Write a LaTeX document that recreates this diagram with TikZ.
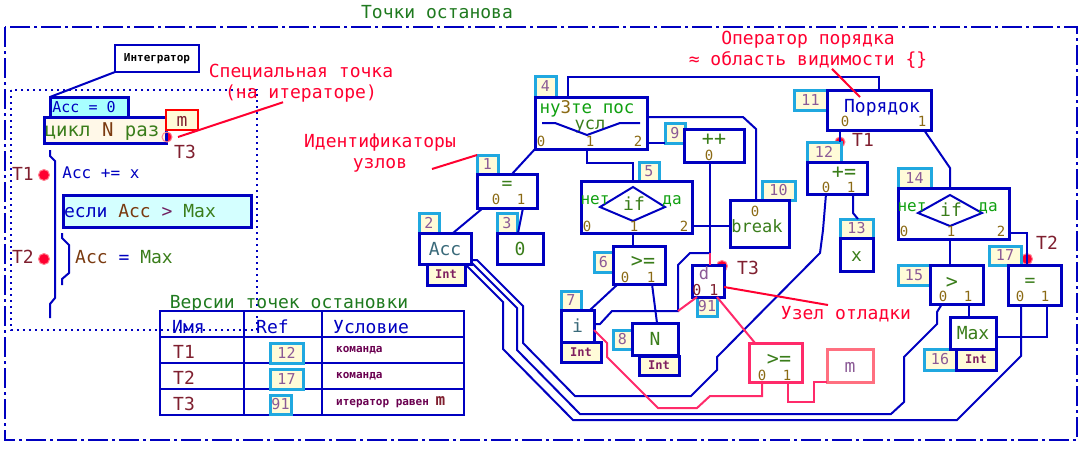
\documentclass[tikz,border=0pt]{standalone}
\usepackage{fontspec}
\setmainfont{DejaVu Sans Mono}

\definecolor{nblue}{HTML}{0000C0}
\definecolor{idcyan}{HTML}{20A8E0}
\definecolor{cream}{HTML}{FFFBD8}
\definecolor{itercream}{HTML}{FFF8E8}
\definecolor{cyanfill}{HTML}{A8FFFF}
\definecolor{palecyan}{HTML}{D4FFFF}
\definecolor{idtext}{HTML}{8B5A96}
\definecolor{porttext}{HTML}{8B6A14}
\definecolor{opgreen}{HTML}{3A7D1A}
\definecolor{brgreen}{HTML}{10A010}
\definecolor{titlegreen}{HTML}{1F7A1F}
\definecolor{tealtext}{HTML}{3A6A7A}
\definecolor{tred}{HTML}{7F1F2F}
\definecolor{annred}{HTML}{FF0030}
\definecolor{dbgpink}{HTML}{FF2A6A}
\definecolor{mpink}{HTML}{FF7080}
\definecolor{inttext}{HTML}{802060}
\definecolor{cmdtext}{HTML}{6A0050}
\definecolor{accbrown}{HTML}{7A3A10}
\definecolor{gtpurple}{HTML}{702060}
\definecolor{dotred}{HTML}{FF0030}
\definecolor{dotring}{HTML}{FF8090}

\begin{document}
\begin{tikzpicture}[x=1pt, y=-1pt,
		opbox/.style={draw=nblue, line width=3pt, fill=white, inner sep=0pt, outer sep=0pt, anchor=north west},
		idbox/.style={draw=idcyan, line width=3pt, fill=cream, text=idtext, inner sep=0pt, outer sep=0pt, anchor=north west, font=\fontsize{15}{15}\selectfont},
		intbox/.style={draw=nblue, line width=3pt, fill=cream, text=inttext, inner sep=0pt, outer sep=0pt, anchor=north west, font=\fontsize{12}{12}\selectfont\bfseries},
		txt/.style={inner sep=0pt, text height=13pt, text depth=0pt, font=\fontsize{18}{18}\selectfont},
		optxt/.style={txt, text=opgreen, text height=12pt, font=\fontsize{20}{20}\selectfont},
		port/.style={txt, text=porttext, text height=10.2pt, font=\fontsize{14}{14}\selectfont},
		yesno/.style={txt, text=brgreen, text height=11.7pt, font=\fontsize{16}{16}\selectfont},
		note/.style={inner sep=0pt, text=annred, align=center, font=\fontsize{18}{21}\selectfont},
		cmdtxt/.style={inner sep=0pt, text=cmdtext, anchor=west, font=\fontsize{11}{11}\selectfont\bfseries},
		edge/.style={draw=nblue, line width=2pt},
		dbg/.style={draw=dbgpink, line width=2pt},
		ptr/.style={draw=annred, line width=2pt},
		tbl/.style={draw=nblue, line width=2pt},
		tmark/.style={circle, fill=dotred, draw=dotring, line width=1pt, minimum size=11pt, inner sep=0pt},
	]
	\useasboundingbox (0,0) rectangle (1086,448);

	% frame of the breakpoints
	\draw[nblue, line width=2pt, dash pattern=on 20pt off 4pt on 3pt off 4pt] (5,27) rectangle (1077,440);
	\node[txt, text=titlegreen] (title) at (437,12) {Точки останова};
	\draw[nblue, line width=2pt, dash pattern=on 2pt off 4pt] (11,90) rectangle (257,330);

	% iterator on the left
	\coordinate (itdot) at (167,137);
	\node[opbox, fill=cyanfill, minimum width=78, minimum height=20] (acc0) at (50,97) {};
	\node[txt, text=nblue, text height=11pt, font=\fontsize{15}{15}\selectfont] (acc0t) at (84,107) {Acc = 0};
	\fill[dotred] (itdot) circle (5pt);
	\node[opbox, fill=itercream, minimum width=122, minimum height=26] (iter) at (44,117) {};
	\node[txt, text height=13.9pt, font=\fontsize{19}{19}\selectfont] (itert) at (102,130) {\textcolor{opgreen}{цикл} \textcolor{accbrown}{N} \textcolor{opgreen}{раз}};
	\draw[dotring, line width=1pt] (itdot) circle (5pt);
	\node[draw=red, line width=1.5pt, fill=cream, minimum width=32, minimum height=20, anchor=north west, outer sep=0pt, txt, text=tred] (mlim) at (166,110) {m};
	\node[txt, text=tred] (t3l) at (185,152) {T3};
	\node[draw=nblue, line width=2pt, fill=white, minimum width=84, minimum height=27, inner sep=0pt, outer sep=0pt, anchor=north west, font=\fontsize{11}{11}\selectfont\bfseries] (integ) at (115,45) {Интегратор};
	\draw[edge] (integ.south west) -- (acc0.north west);

	\draw[edge] (50,150) -- (50,156) -- (55,161) -- (55,298) -- (50,304) -- (50,318);
	\draw[edge] (62,233) -- (62,238) -- (69,245) -- (69,273) -- (62,279) -- (62,285);

	\node[txt, text=tred] (t1l) at (23,174) {T1};
	\node[tmark] (t1m) at (44,175) {};
	\node[txt, text=nblue, text height=11.7pt, font=\fontsize{16}{16}\selectfont] (accx) at (101,173) {Acc += x};
	\node[opbox, fill=palecyan, minimum width=188, minimum height=32] (cond) at (63,195) {};
	\node[txt] (condt) at (140,211) {\textcolor{nblue}{если} \textcolor{accbrown}{Acc} \textcolor{gtpurple}{>} \textcolor{opgreen}{Max}};
	\node[txt, text=tred] (t2l) at (23,257) {T2};
	\node[tmark] (t2m) at (44,259) {};
	\node[txt] (assign) at (124,257) {\textcolor{accbrown}{Acc} \textcolor{nblue}{=} \textcolor{opgreen}{Max}};

	% table of breakpoint versions
	\node[txt, text=titlegreen] (vtitle) at (289,302) {Версии точек остановки};
	\draw[tbl] (160,311) rectangle (464,415);
	\draw[tbl] (244,311) -- (244,415) (322,311) -- (322,415);
	\draw[tbl] (160,337) -- (464,337) (160,363) -- (464,363) (160,389) -- (464,389);
	\node[txt, text=nblue, anchor=west] (hname) at (172,327) {Имя};
	\node[txt, text=nblue, anchor=west] (href) at (256,327) {Ref};
	\node[txt, text=nblue, anchor=west] (hcond) at (333,327) {Условие};
	\node[txt, text=tred, anchor=west] (r1n) at (173,352) {T1};
	\node[idbox, minimum width=33, minimum height=20] (r1ref) at (270,343) {12};
	\node[cmdtxt] (r1c) at (336,350) {команда};
	\node[txt, text=tred, anchor=west] (r2n) at (173,378) {T2};
	\node[idbox, minimum width=33, minimum height=20] (r2ref) at (270,369) {17};
	\node[cmdtxt] (r2c) at (336,376) {команда};
	\node[txt, text=tred, anchor=west] (r3n) at (173,404) {T3};
	\node[idbox, minimum width=21, minimum height=19] (r3ref) at (270,395) {91};
	\node[cmdtxt] (r3c) at (336,402) {итератор равен \textcolor{tred}{\fontsize{16}{16}\selectfont m}};

	% graph: breakpoint marks under the boxes
	\node[tmark, minimum size=10pt] (t1g) at (840,142) {};
	\node[tmark] (t3g) at (722,266) {};
	\node[tmark] (t2g) at (1027,259) {};

	% graph nodes
	\node[idbox, minimum width=21, minimum height=21] (n4id) at (535,76) {4};
	\node[opbox, minimum width=112, minimum height=52] (n4) at (535,97) {};
	\node[idbox, minimum width=21, minimum height=19] (n1id) at (477,155) {1};
	\node[opbox, minimum width=60, minimum height=34] (n1) at (477,174) {};
	\node[idbox, minimum width=20, minimum height=20] (n2id) at (419,213) {2};
	\node[intbox, minimum width=38, minimum height=21] (n2int) at (427,264) {Int};
	\node[opbox, minimum width=52, minimum height=31, txt, text=tealtext] (n2) at (419,233) {Acc};
	\node[idbox, minimum width=20, minimum height=20] (n3id) at (497,213) {3};
	\node[opbox, minimum width=46, minimum height=31, txt, text=opgreen] (n3) at (497,233) {0};
	\node[idbox, minimum width=20, minimum height=19] (n5id) at (639,162) {5};
	\node[opbox, minimum width=111, minimum height=52] (n5) at (581,181) {};
	\node[idbox, minimum width=19, minimum height=20] (n6id) at (594,252) {6};
	\node[opbox, minimum width=52, minimum height=38] (n6) at (613,246) {};
	\node[idbox, minimum width=20, minimum height=19] (n7id) at (561,291) {7};
	\node[intbox, minimum width=40, minimum height=20] (n7int) at (561,342) {Int};
	\node[opbox, minimum width=33, minimum height=32, txt, text=tealtext] (n7) at (561,310) {i};
	\node[idbox, minimum width=19, minimum height=19] (n8id) at (613,330) {8};
	\node[intbox, minimum width=40, minimum height=19] (n8int) at (639,356) {Int};
	\node[opbox, minimum width=46, minimum height=32, txt, text=opgreen] (n8) at (632,323) {N};
	\node[idbox, minimum width=20, minimum height=20] (n9id) at (665,123) {9};
	\node[opbox, minimum width=60, minimum height=33] (n9) at (684,129) {};
	\node[idbox, minimum width=33, minimum height=19] (n10id) at (762,181) {10};
	\node[opbox, minimum width=59, minimum height=47] (n10) at (730,200) {};
	\node[idbox, minimum width=33, minimum height=20] (n11id) at (794,90) {11};
	\node[opbox, minimum width=104, minimum height=40] (n11) at (827,90) {};
	\node[idbox, minimum width=34, minimum height=20] (n12id) at (807,142) {12};
	\node[opbox, minimum width=60, minimum height=32] (n12) at (807,162) {};
	\node[idbox, minimum width=33, minimum height=19] (n13id) at (840,219) {13};
	\node[opbox, minimum width=33, minimum height=33, txt, text=opgreen] (n13) at (840,238) {x};
	\node[idbox, minimum width=33, minimum height=20] (n14id) at (898,168) {14};
	\node[opbox, minimum width=111, minimum height=51] (n14) at (898,188) {};
	\node[idbox, minimum width=32, minimum height=20] (n15id) at (898,265) {15};
	\node[opbox, minimum width=53, minimum height=39] (n15) at (930,265) {};
	\node[idbox, minimum width=32, minimum height=21] (n16id) at (924,349) {16};
	\node[intbox, minimum width=40, minimum height=21] (n16int) at (956,349) {Int};
	\node[opbox, minimum width=46, minimum height=32, txt, text=opgreen] (n16) at (950,317) {Max};
	\node[idbox, minimum width=32, minimum height=19] (n17id) at (989,246) {17};
	\node[opbox, minimum width=53, minimum height=40] (n17) at (1008,265) {};
	\node[idbox, minimum width=20, minimum height=19] (n91id) at (697,297) {91};
	\node[opbox, minimum width=32, minimum height=32] (n91) at (692,265) {};
	\node[opbox, draw=dbgpink, minimum width=53, minimum height=39] (npk) at (749,343) {};
	\node[opbox, draw=mpink, minimum width=46, minimum height=33, txt, text=idtext] (nm) at (827,349) {m};

	% texts inside the nodes
	\node[txt, text=brgreen, text height=12.4pt, font=\fontsize{17.5}{17.5}\selectfont] (n4t) at (587,107) {ну\textcolor{porttext}{3}те пос};
	\node[txt, text=opgreen, text height=12.4pt, font=\fontsize{17}{17}\selectfont] (n4u) at (590,123) {усл};
	\draw[edge] (542,123) -- (555,123) -- (587,135) -- (620,123) -- (640,123);
	\node[port] (n4p0) at (541,141) {0};
	\node[port] (n4p1) at (590,141) {1};
	\node[port] (n4p2) at (638,141) {2};
	\node[optxt, text height=11pt, font=\fontsize{18}{18}\selectfont] (n1t) at (507,184) {=};
	\node[port] (n1p0) at (496,199) {0};
	\node[port] (n1p1) at (521,199) {1};
	\draw[edge] (600,207) -- (633,187) -- (665,207) -- (633,221) -- cycle;
	\node[txt, text=opgreen] (n5t) at (634,204) {if};
	\node[yesno] (n5no) at (595,199) {нет};
	\node[yesno] (n5yes) at (672,199) {да};
	\node[port] (n5p0) at (587,226) {0};
	\node[port] (n5p1) at (634,226) {1};
	\node[port] (n5p2) at (684,226) {2};
	\node[optxt] (n6t) at (643,261) {>=};
	\node[port] (n6p0) at (625,277) {0};
	\node[port] (n6p1) at (651,277) {1};
	\node[optxt] (n9t) at (714,139) {++};
	\node[port] (n9p0) at (709,155) {0};
	\node[port] (n10p0) at (755,211) {0};
	\node[txt, text=opgreen, text height=12.4pt, font=\fontsize{17}{17}\selectfont] (n10t) at (757,226) {break};
	\node[txt, text=nblue] (n11t) at (882,106) {Порядок};
	\node[port] (n11p0) at (845,121) {0};
	\node[port] (n11p1) at (922,121) {1};
	\node[optxt] (n12t) at (844,172) {+=};
	\node[port] (n12p0) at (826,187) {0};
	\node[port] (n12p1) at (851,187) {1};
	\draw[edge] (918,213) -- (950,195) -- (982,213) -- (950,226) -- cycle;
	\node[txt, text=opgreen] (n14t) at (951,210) {if};
	\node[yesno] (n14no) at (912,206) {нет};
	\node[yesno] (n14yes) at (988,206) {да};
	\node[port] (n14p0) at (904,231) {0};
	\node[port] (n14p1) at (951,231) {1};
	\node[port] (n14p2) at (1001,231) {2};
	\node[optxt] (n15t) at (952,282) {>};
	\node[port] (n15p0) at (943,296) {0};
	\node[port] (n15p1) at (968,296) {1};
	\node[optxt, text height=11pt, font=\fontsize{18}{18}\selectfont] (n17t) at (1030,281) {=};
	\node[port] (n17p0) at (1020,296) {0};
	\node[port] (n17p1) at (1045,296) {1};
	\node[txt, text=idtext, text height=12.4pt, font=\fontsize{17}{17}\selectfont] (n91t) at (704,273) {d};
	\node[port, text=tred, text height=11pt, font=\fontsize{15}{15}\selectfont] (n91p0) at (697,290) {0};
	\node[port, text=tred, text height=11pt, font=\fontsize{15}{15}\selectfont] (n91p1) at (714,290) {1};
	\node[optxt] (npkt) at (779,359) {>=};
	\node[port] (npkp0) at (762,375) {0};
	\node[port] (npkp1) at (787,375) {1};

	\node[txt, text=tred] (t1gl) at (863,140) {T1};
	\node[txt, text=tred] (t3gl) at (748,268) {T3};
	\node[txt, text=tred] (t2gl) at (1047,243) {T2};

	% connectors
	\coordinate (dj) at (710,253);
	\coordinate (dk) at (678,311);
	\draw[edge] (n4.south west) -- ([xshift=5]n1.north);
	\draw[edge] ([xshift=6]n1.south west) -- ([xshift=-18]n2.north east);
	\draw[edge] ([xshift=46]n1.south west) -- ([xshift=21]n3.north west);
	\draw[edge] ([xshift=52]n4.south west) -- ++(0,14) -| ([xshift=-3.5]n5.north);
	\draw[edge] ([yshift=6]n4.south east) -- (n9id.south west);
	\draw[edge] ([yshift=-20]n4.north east) -- ++(96,0) -- ++(13,12) -- ([xshift=-3.5]n10.north);
	\draw[edge] ([xshift=33]n4.north west) -- ++(0,-20) -| (n11.north);
	\draw[edge] ([xshift=-3.5]n5.south) -- ([xshift=-6]n6.north);
	\draw[edge] ([yshift=7]n5.south east) -- ([yshift=-2.5]n10.west);
	\draw[edge] ([xshift=-4]n9.south) -- (dj);
	\draw[edge] ([yshift=2]n7.east) -- ++(6,0) -- ++(12,-13) -- (dk) -- ++(0,-46) -- ++(12,-12) -- (dj);
	\draw[edge] ([xshift=5]n6.south west) -- ([xshift=-4]n7.north east);
	\draw[edge] ([xshift=39]n6.south west) -- ([xshift=2]n8.north);
	\draw[edge] ([xshift=13]n11.south west) -- ([xshift=-1]n12id.north east);
	\draw[edge] ([xshift=-7]n11.south east) -- ++(26,38) -- ([xshift=-3.5]n14.north);
	\draw[edge] ([xshift=46]n12.south west) -- ++(0,19) -- ([xshift=18]n13id.north west);
	\draw[edge] ([xshift=-3.5]n14.south) -- ([xshift=-6.5]n15.north);
	\draw[edge] ([yshift=6]n14.south east) -| ([xshift=-7.5]n17.north);
	\draw[edge] ([xshift=39]n15.south west) -- ([xshift=19]n16.north west);
	\draw[edge] ([xshift=39]n17.south west) |- ([yshift=-4]n16.east);
	\draw[edge] ([yshift=4]n2.south east) -- ++(6,0) -- ++(46,46) -- ++(0,37) -- ++(52,53) -- ++(116,0) -- ++(26,-26) -- ++(0,-13) -- ++(103,-104) -- ++(3,-23) -- ([xshift=19]n12.south west);
	\draw[edge] ([yshift=2]n2.south east) -- ++(46,46) -- ++(0,42) -- ++(63,64) -- ++(311,0) -- ++(13,-12) -- ++(0,-45) -- ++(33,-33) -- ++(0,-12) -- ([xshift=12]n15.south west);
	\draw[edge] (n2int.north east) -- ++(38,38) -- ++(0,47) -- ++(70,71) -- ++(384,0) -- ++(64,-64) -- ([xshift=13]n17.south west);

	% debug connectors
	\draw[dbg] (dj) -- ([xshift=2]n91.north);
	\draw[dbg] ([xshift=5]n91.south west) -- (dk);
	\draw[dbg] ([xshift=25]n91.south west) -- ([xshift=6]npk.north west);
	\draw[dbg] ([yshift=-4]n7.east) -- ++(13,13) -- ++(0,14) -- ++(51,51) -- ++(39,0) -- ++(13,-12) -| ([xshift=13]npk.south west);
	\draw[dbg] ([xshift=39]npk.south west) -- ++(0,20) -- ++(26,0) |- (nm.south west);

	% annotations
	\node[note] (nspec) at (301,83) {Специальная точка\\(на итераторе)};
	\node[note] (nord) at (808,50) {Оператор порядка\\≈ область видимости \{\}};
	\node[note] (nids) at (380,153) {Идентификаторы\\узлов};
	\node[note] (ndbg) at (846,314) {Узел отладки};
	\coordinate (idsp) at (432,169);
	\coordinate (dbgp) at (828,305);
	\draw[ptr] ([xshift=11]itdot) -- ([xshift=-18]nspec.south);
	\draw[ptr] ([xshift=24]nord.south) -- ([xshift=-19,yshift=-7]n11.north);
	\draw[ptr] (idsp) -- (n1id.north west);
	\draw[ptr] ([yshift=-6]n91.east) -- (dbgp);
\end{tikzpicture}
\end{document}
